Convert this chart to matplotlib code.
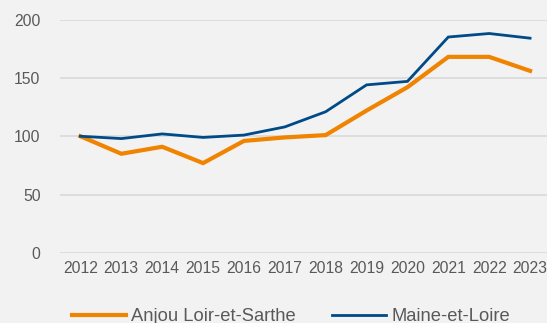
import matplotlib.pyplot as plt
from matplotlib.lines import Line2D

# Indices base 100 en 2012
annees = ['2012', '2013', '2014', '2015', '2016', '2017',
          '2018', '2019', '2020', '2021', '2022', '2023']
anjou = [100, 85, 91, 77, 96, 99, 101, 122, 142, 168, 168, 156]
maine = [100, 98, 102, 99, 101, 108, 121, 144, 147, 185, 188, 184]

ORANGE = '#f08300'
BLEU = '#004a87'
GRIS = '#595959'
FOND = '#f2f2f2'

plt.rcParams['font.family'] = ['Liberation Sans', 'DejaVu Sans']

fig = plt.figure(figsize=(5.47, 3.23), dpi=100, facecolor=FOND)
# axe un peu plus large que la figure : la derniere annee est coupee a droite
ax = fig.add_axes([60 / 547, 70 / 323, 490.5 / 547, 233.5 / 323])
ax.set_facecolor(FOND)

x = range(len(annees))
ax.plot(x, anjou, color=ORANGE, lw=3, solid_joinstyle='miter', zorder=3)
ax.plot(x, maine, color=BLEU, lw=2, solid_joinstyle='miter', zorder=4)

ax.set_xlim(-0.5, len(annees) - 0.5)
ax.set_ylim(0, 200)
ax.set_yticks([0, 50, 100, 150, 200])
ax.set_xticks(list(x))
ax.set_xticklabels(annees)

ax.grid(axis='y', color='#d9d9d9', lw=1.2)
ax.set_axisbelow(True)
for s in ax.spines.values():
    s.set_visible(False)
ax.tick_params(length=0, labelsize=11.3, labelcolor=GRIS)
ax.tick_params(axis='y', pad=14)
ax.tick_params(axis='x', pad=6)

# legende en bas, partiellement coupee par le bord de la figure
poignees = [Line2D([], [], color=ORANGE, lw=3),
            Line2D([], [], color=BLEU, lw=2)]
fig.legend(poignees, ['Anjou Loir-et-Sarthe', 'Maine-et-Loire'],
           loc='center left', bbox_to_anchor=(72 / 547, 6.3 / 323), ncol=2,
           frameon=False, fontsize=13.25, labelcolor=GRIS, borderpad=0,
           borderaxespad=0, handlelength=2.93, handletextpad=0.27,
           columnspacing=2.0)

fig.savefig('out.png', dpi=100, facecolor=FOND)
